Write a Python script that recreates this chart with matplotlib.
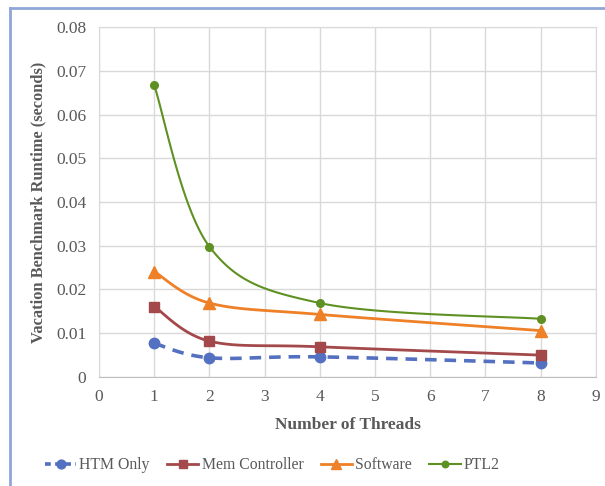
import numpy as np
import matplotlib
matplotlib.use("Agg")
import matplotlib.pyplot as plt
from matplotlib.lines import Line2D

threads = [1, 2, 4, 8]
htm_only = [0.0077, 0.0044, 0.0046, 0.0032]
mem_controller = [0.0161, 0.0082, 0.0069, 0.0050]
software = [0.0241, 0.0169, 0.0143, 0.0106]
ptl2 = [0.0667, 0.0298, 0.0169, 0.0133]

series_names = ["HTM Only", "Mem Controller", "Software", "PTL2"]
x_ticks = list(range(0, 10))
y_ticks = [0, 0.01, 0.02, 0.03, 0.04, 0.05, 0.06, 0.07, 0.08]
y_tick_labels = ["0", "0.01", "0.02", "0.03", "0.04", "0.05", "0.06", "0.07", "0.08"]

FONT = "Liberation Serif"
plt.rcParams["font.family"] = [FONT, "DejaVu Serif"]


def smooth(xs, ys, n=40):
    xs = np.asarray(xs, float)
    ys = np.asarray(ys, float)
    px = np.concatenate([[xs[0]], xs, [xs[-1]]])
    py = np.concatenate([[ys[0]], ys, [ys[-1]]])
    outx, outy = [], []
    t = np.linspace(0, 1, n)
    for i in range(1, len(px) - 2):
        p0 = np.array([px[i], py[i]])
        p3 = np.array([px[i + 1], py[i + 1]])
        c1 = p0 + (np.array([px[i + 1], py[i + 1]]) - np.array([px[i - 1], py[i - 1]])) / 6
        c2 = p3 - (np.array([px[i + 2], py[i + 2]]) - np.array([px[i], py[i]])) / 6
        b = ((1 - t) ** 3)[:, None] * p0 + (3 * (1 - t) ** 2 * t)[:, None] * c1 \
            + (3 * (1 - t) * t ** 2)[:, None] * c2 + (t ** 3)[:, None] * p3
        outx.extend(b[:, 0])
        outy.extend(b[:, 1])
    return outx, outy


fig = plt.figure(figsize=(6.05, 4.86), dpi=100)
ax = fig.add_axes([0.1636, 0.2243, 0.8214, 0.7201])

styles = [
    dict(data=htm_only, color="#5470C0", ls=(0, (3.2, 2.2)), lw=2.6, marker="o", ms=7.5),
    dict(data=mem_controller, color="#A4494B", ls="-", lw=2.0, marker="s", ms=7.5),
    dict(data=software, color="#EE8028", ls="-", lw=2.0, marker="^", ms=8),
    dict(data=ptl2, color="#5E9122", ls="-", lw=1.5, marker="o", ms=5.5),
]

handles = []
for name, st in zip(series_names, styles):
    sx, sy = smooth(threads, st["data"])
    ax.plot(sx, sy, color=st["color"], ls=st["ls"], lw=st["lw"], zorder=3)
    ax.plot(threads, st["data"], ls="none", marker=st["marker"], ms=st["ms"],
            color=st["color"], zorder=4)
    handles.append(Line2D([], [], color=st["color"], ls=(0, (1.6, 1.2)) if st["ls"] != "-" else "-",
                          lw=st["lw"], marker=st["marker"], ms=st["ms"] * 0.85, label=name))

ax.set_xlim(0, 9)
ax.set_ylim(0, 0.08)
ax.set_xticks(x_ticks)
ax.set_yticks(y_ticks)
ax.set_yticklabels(y_tick_labels)
ax.grid(True, color="#D9D9D9", lw=1.0)
ax.set_axisbelow(True)
for s in ["top", "right", "left"]:
    ax.spines[s].set_color("#D9D9D9")
ax.spines["bottom"].set_color("#BFBFBF")
ax.tick_params(length=0, labelsize=12.5, labelcolor="#595959", pad=9)

ax.set_xlabel("Number of Threads", fontsize=12.5, fontweight="bold", color="#595959", labelpad=8)
ax.set_ylabel("Vacation Benchmark Runtime (seconds)", fontsize=11.8, fontweight="bold",
              color="#595959", labelpad=7)

fig.legend(handles=handles, loc="center", bbox_to_anchor=(0.45, 0.043), ncol=4,
           frameon=False, fontsize=11.3, handlelength=2.0, columnspacing=1.1,
           handletextpad=0.2, labelcolor="#595959")

# frame border (left and top)
border = "#8FA6D8"
fig.add_artist(Line2D([0.0165, 0.0165], [0, 0.984], color=border, lw=2.0,
                      transform=fig.transFigure))
fig.add_artist(Line2D([0.0165, 1.0], [0.984, 0.984], color=border, lw=2.0,
                      transform=fig.transFigure))

fig.savefig("out.png", dpi=100)
